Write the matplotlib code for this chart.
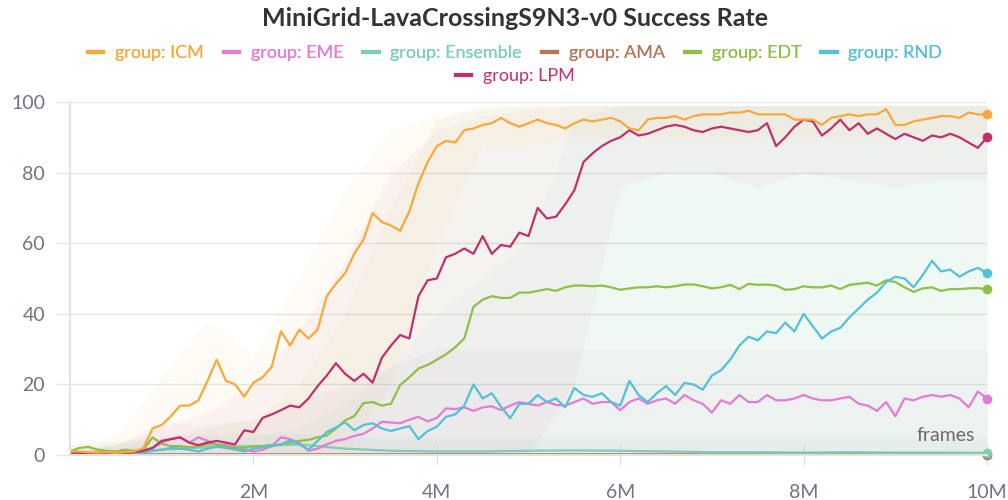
import numpy as np
import matplotlib
matplotlib.use("Agg")
import matplotlib.pyplot as plt
from matplotlib.lines import Line2D

plt.rcParams['font.family'] = ['Lato', 'DejaVu Sans']

# x in millions of frames, 0.1M steps
frames = np.round(np.arange(0, 10.01, 0.1), 2)

icm = [1, 1, 0.8, 0.7, 0.8, 0.6, 0.8, 1.0, 2.0, 7.5,
       8.5, 11, 14, 14, 15.5, 21, 27, 21, 20, 16.5,
       20.5, 22, 25, 35, 31, 35.5, 33, 35.5, 45, 48.5,
       51.5, 57, 61, 68.5, 66, 65, 63.5, 69, 77, 83,
       87.5, 89, 88.5, 92, 92.5, 93.5, 94, 95.5, 94, 93,
       94, 95, 94, 93.5, 92.5, 94, 95, 94.5, 95, 95.5,
       94.5, 92.5, 92, 95, 95.5, 95.5, 96, 95, 96, 96.5,
       96.5, 96.5, 97, 97, 97.5, 96.5, 96.5, 96.5, 96.5, 95,
       95, 95, 93.5, 95.5, 96, 96.5, 96, 96.5, 96.5, 98,
       93.5, 93.5, 94.5, 95, 95.5, 96, 96, 95.5, 97, 96.5,
       96.5]
lpm = [0.5, 0.5, 0.4, 0.5, 0.4, 0.5, 0.5, 0.8, 1.2, 2,
       4, 4.5, 5, 3.5, 2.8, 3.5, 4, 3.5, 3, 7,
       6.5, 10.5, 11.5, 12.7, 14, 13.5, 16, 19.5, 22.5, 26,
       23, 21, 23, 20.5, 27.5, 31, 34, 33, 45, 49.5,
       50, 56, 57, 58.5, 57, 62, 57, 59.5, 59, 63,
       62, 70, 67, 67.5, 71, 75, 83, 85.5, 87.5, 89,
       90, 92, 90.5, 91, 92, 93, 93.5, 93, 92, 91.5,
       92.5, 93, 92.5, 92, 91.5, 92, 94, 87.5, 90, 93,
       95, 94.5, 90.5, 92.5, 95, 92, 94, 91, 92.5, 91,
       89.5, 91, 90, 89, 90.5, 90, 91, 90, 88.5, 87,
       90]
edt = [1, 2, 2.3, 1.5, 1.2, 1, 1.5, 1.2, 1.5, 5,
       3.2, 2.5, 2.5, 2.2, 2.5, 3, 3, 2.5, 2, 2,
       2.5, 2.5, 2.8, 3, 3.5, 4, 4.3, 5, 5.5, 7.5,
       9.8, 11, 14.7, 15, 14, 14.5, 19.8, 22, 24.5, 25.5,
       27, 28.5, 30.5, 33, 42, 44, 45, 44.5, 44.5, 46,
       46, 46.5, 47, 46.5, 47.5, 48, 48, 47.8, 48, 47.5,
       46.8, 47.2, 47.5, 47.5, 47.8, 47.5, 47.8, 48.3, 48.3, 47.8,
       47.2, 47.5, 48.2, 47, 48.5, 48.2, 48.3, 48, 46.8, 47,
       47.8, 47.5, 47.5, 48, 47, 48.2, 48.5, 48.8, 48, 49.5,
       49, 47.5, 46.2, 47.2, 47.5, 46.5, 47, 47, 47.2, 47.3,
       46.9]
rnd = [0.5, 0.5, 0.4, 0.5, 0.4, 0.5, 0.5, 0.6, 0.8, 1.2,
       1.5, 2, 1.8, 1.5, 1, 1.8, 2.4, 2, 1.5, 1,
       1.8, 2.2, 2.5, 3, 4.2, 3, 1.5, 4, 6.5, 7.8,
       9.3, 7, 8.5, 9, 7.5, 6.8, 7.5, 8.2, 4.5, 6.8,
       8, 10.8, 11.5, 14, 20, 16, 17.5, 13.7, 10.4, 14.5,
       14.5, 17, 15, 16, 13.5, 19, 17, 16.5, 17.5, 15,
       14, 21, 17, 15, 17.5, 19.5, 17, 20.4, 20, 18.5,
       22.5, 24, 27, 31, 33.5, 32.5, 35, 34.5, 37.5, 35,
       40, 36.5, 33, 35, 36, 39, 41.5, 44, 46, 49,
       50.5, 50, 47.5, 51, 55, 52, 52.5, 50.5, 52, 53,
       51.5]
eme = [0.5, 0.4, 0.5, 0.6, 0.8, 0.5, 0.6, 0.8, 1.2, 2,
       3.5, 4.5, 5, 3.5, 5, 4, 3, 2.8, 2.2, 1.5,
       1, 1.5, 2.5, 5, 4.5, 3.5, 1.2, 1.8, 3, 4,
       4.5, 5.4, 6, 7.5, 9.4, 9.2, 9, 10, 10.8, 9.5,
       10.5, 13.2, 13, 13.5, 12.5, 13.5, 13.8, 12.7, 14, 15,
       14.5, 14, 15, 14.2, 14, 15, 16, 14.5, 15, 15,
       12.7, 15, 16, 14.5, 15.5, 16, 14.5, 17, 15.5, 14.5,
       12, 15.5, 14.5, 17, 15, 15, 17, 15.5, 15.5, 16,
       17, 16, 15.5, 15.5, 16, 16.5, 14.5, 14, 12.5, 15,
       11, 16, 15.5, 16.5, 17, 16.5, 17, 16, 13.5, 18,
       16]

# coarse series, 0.5M steps
frames_c = np.round(np.arange(0, 10.01, 0.5), 2)
ensemble = [0.5, 0.6, 1.5, 2.2, 2.5, 3, 1.8, 1.2, 1, 1, 1.2,
            1.3, 1.2, 1.0, 0.8, 0.8, 0.7, 0.8, 0.7, 0.7, 0.6]
ama = [0.2, 0.2, 0.2, 0.2, 0.2, 0.2, 0.2, 0.2, 0.2, 0.2, 0.2,
       0.2, 0.2, 0.2, 0.2, 0.2, 0.2, 0.2, 0.2, 0.2, 0.1]

# min/max bands, 0.5M steps
icm_hi = [3, 5, 22, 38, 28, 50, 75, 92, 96, 98, 99, 99, 99, 99, 99, 99, 99, 99, 99, 99, 99]
icm_lo = [0, 0, 0, 0, 0, 0, 0, 20, 60, 88, 88, 90, 90, 90, 90, 90, 90, 90, 90, 90, 90]
lpm_hi = [1, 3, 8, 12, 20, 35, 55, 80, 92, 96, 98, 99, 99, 99, 99, 99, 99, 99, 99, 99, 99]
lpm_lo = [0, 0, 0, 0, 0, 0, 0, 0, 0, 0, 0, 20, 76, 80, 80, 76, 80, 78, 76, 78, 78]
edt_hi = [3, 4, 5, 8, 10, 20, 40, 70, 95, 99, 99, 99, 99, 99, 99, 99, 99, 99, 99, 99, 99]
rnd_hi = [1, 2, 3, 4, 5, 8, 15, 25, 40, 50, 60, 95, 99, 99, 99, 99, 99, 99, 99, 99, 99]
eme_hi = [1, 3, 8, 9, 10, 15, 20, 25, 30, 30, 30, 30, 30, 30, 30, 30, 30, 30, 30, 30, 30]
ens_hi = [2, 3, 5, 6, 6, 6, 5, 5, 5, 5, 5, 5, 5, 5, 5, 5, 5, 5, 5, 5, 5]
zeros = [0] * 21

colors = {
    "ICM": "#f9a83a", "EME": "#e47bd5", "Ensemble": "#7ccfb3", "AMA": "#b5775a",
    "EDT": "#8fc046", "RND": "#55c1d6", "LPM": "#c0306e",
}

fig = plt.figure(figsize=(10.08, 5.0), dpi=100)
ax = fig.add_axes([70 / 1008, 45 / 500, 917 / 1008, 353 / 500])

# bands
ax.fill_between(frames_c, ens_hi, zeros, color=colors["Ensemble"], alpha=0.08, lw=0)
ax.fill_between(frames_c, eme_hi, zeros, color=colors["EME"], alpha=0.05, lw=0)
ax.fill_between(frames_c, edt_hi, zeros, color=colors["EDT"], alpha=0.06, lw=0)
ax.fill_between(frames_c, rnd_hi, zeros, color=colors["RND"], alpha=0.05, lw=0)
ax.fill_between(frames_c, lpm_hi, lpm_lo, color=colors["LPM"], alpha=0.04, lw=0)
ax.fill_between(frames_c, icm_hi, icm_lo, color=colors["ICM"], alpha=0.05, lw=0)

# lines
series = [
    ("AMA", frames_c, ama), ("Ensemble", frames_c, ensemble), ("EME", frames, eme),
    ("EDT", frames, edt), ("RND", frames, rnd), ("LPM", frames, lpm), ("ICM", frames, icm),
]
for name, xs, ys in series:
    ax.plot(xs, ys, color=colors[name], lw=1.6, solid_joinstyle="round")
    ax.plot(xs[-1], ys[-1], "o", color=colors[name], ms=6, clip_on=False)

ax.set_xlim(0, 10)
ax.set_ylim(0, 100)
ax.set_xticks([2, 4, 6, 8, 10])
ax.set_xticklabels(["2M", "4M", "6M", "8M", "10M"])
ax.set_yticks([0, 20, 40, 60, 80, 100])
ax.grid(axis="y", color="#e6e6e6", lw=1)
ax.set_axisbelow(True)
for s in ["top", "right"]:
    ax.spines[s].set_visible(False)
for s in ["left", "bottom"]:
    ax.spines[s].set_color("#e3e3e3")
    ax.spines[s].set_linewidth(1.5)
ax.tick_params(axis="x", direction="inout", length=14, width=1, color="#e3e3e3",
               labelsize=14, labelcolor="#6f7480", pad=14)
ax.tick_params(axis="y", length=10, width=1, color="#e6e6e6",
               labelsize=14, labelcolor="#6f7480", pad=8)

ax.text(0.987, 0.03, "frames", transform=ax.transAxes, ha="right", va="bottom",
        fontsize=14, color="#6b6b6b")

fig.text(0.511, 0.962, "MiniGrid-LavaCrossingS9N3-v0 Success Rate", ha="center",
         va="center", fontsize=18, fontweight="bold", color="#333333")

names1 = ["ICM", "EME", "Ensemble", "AMA", "EDT", "RND"]
h1 = [Line2D([], [], color=colors[n], lw=3) for n in names1]
leg1 = fig.legend(h1, ["group: " + n for n in names1], loc="center",
                  bbox_to_anchor=(0.511, 0.894), ncol=6, frameon=False, fontsize=13,
                  handlelength=0.85, handletextpad=0.65, columnspacing=1.1,
                  labelcolor="linecolor", borderaxespad=0, borderpad=0)
h2 = [Line2D([], [], color=colors["LPM"], lw=3)]
fig.legend(h2, ["group: LPM"], loc="center", bbox_to_anchor=(0.511, 0.848), ncol=1,
           frameon=False, fontsize=13, handlelength=0.85, handletextpad=0.65,
           labelcolor="linecolor", borderaxespad=0, borderpad=0)
fig.add_artist(leg1)

fig.savefig("out.png", dpi=100)
